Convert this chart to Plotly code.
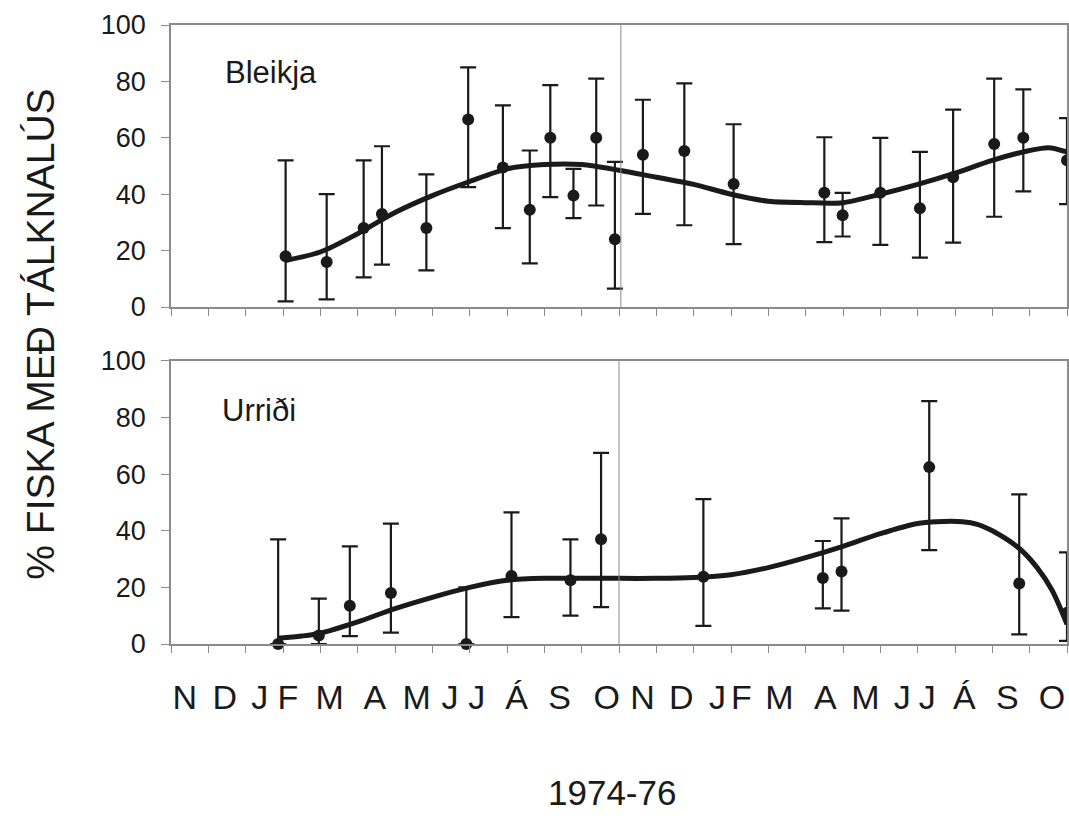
import plotly.graph_objects as go

# ---------------- data (months counted from start of Nov 1974) ----------------
MONTHS = ["N", "D", "J", "F", "M", "A", "M", "J", "J", "Á", "S", "O",
          "N", "D", "J", "F", "M", "A", "M", "J", "J", "Á", "S", "O"]
MONTH_LABEL_POS = [0.37, 1.44, 2.38, 3.13, 4.25, 5.46, 6.58, 7.47, 8.19, 9.26, 10.41, 11.67,
                   12.63, 13.67, 14.64, 15.28, 16.30, 17.53, 18.60, 19.59, 20.26, 21.25, 22.40, 23.60]
MONTH_BOUNDS = list(range(25))

# Bleikja (Arctic charr)
b_x = [3.07, 4.17, 5.16, 5.65, 6.84, 7.96, 8.89, 9.61, 10.16, 10.78, 11.39, 11.89,
       12.64, 13.75, 15.07, 17.50, 17.99, 19.00, 20.06, 20.95, 22.05, 22.83, 24.00]
b_val = [18, 16, 28, 33, 28, 66.5, 49.5, 34.5, 60, 39.5, 60, 24,
         54, 55.3, 43.6, 40.5, 32.5, 40.5, 35, 46, 57.8, 60, 52]
b_hi = [52, 40, 52, 57, 47, 85, 71.5, 55.5, 78.7, 49, 81, 51.5,
        73.5, 79.3, 64.8, 60.2, 40.5, 60, 55, 70, 81, 77.2, 67]
b_lo = [2, 2.7, 10.5, 15, 13, 42.5, 28, 15.5, 39, 31.5, 36, 6.5,
        33, 29, 22.3, 23, 25, 22, 17.5, 22.8, 32, 41, 36.5]
b_fit_x = [3.07, 4, 5, 6, 7, 8, 9, 10, 11, 12, 13, 14, 15, 16, 17, 18, 19, 20, 21, 22, 23, 23.5, 24]
b_fit_y = [16.5, 19.5, 26, 33.5, 39.5, 44.5, 49, 50.5, 50.5, 48.5, 46, 43.5, 40, 37.5, 37, 37,
           40, 43.5, 47.5, 52, 55.5, 56.5, 55]

# Urriði (brown trout)
u_x = [2.87, 3.96, 4.79, 5.89, 7.91, 9.12, 10.70, 11.52, 14.26, 17.46, 17.96, 20.31, 22.72, 24.00]
u_val = [0, 3, 13.5, 18, 0, 24, 22.5, 37, 23.8, 23.3, 25.6, 62.5, 21.4, 11]
u_hi = [37, 16, 34.5, 42.5, 20, 46.5, 37, 67.5, 51.2, 36.4, 44.4, 85.8, 52.9, 32.4]
u_lo = [0, 0, 2.8, 4, 0, 9.5, 10, 13, 6.4, 12.6, 11.8, 33.2, 3.4, 1.1]
u_fit_x = [2.87, 3.5, 4, 5, 6, 7, 8, 9, 10, 11, 12, 13, 14, 15, 16, 17, 18, 19, 20, 20.5,
           21.2, 21.6, 22, 22.7, 23.2, 23.6, 24]
u_fit_y = [2, 2.8, 3.8, 7.8, 12.5, 16.5, 20, 22.5, 23.2, 23.2, 23.2, 23.2, 23.5, 24.5, 27, 30.5,
           34.5, 39, 42.6, 43.2, 43.2, 42.3, 40, 34, 27, 19, 7]

Y_TICKS = [0, 20, 40, 60, 80, 100]

# ---------------- figure ----------------
INK = "#1a1a1a"
AXC = "#8a8a8a"
FONT = "Liberation Sans, Arial, sans-serif"

fig = go.Figure()

def add_panel(xs, vals, his, los, fx, fy, xa, ya):
    fig.add_trace(go.Scatter(
        x=fx, y=fy, mode="lines", line=dict(color=INK, width=5, shape="spline", smoothing=0.8),
        xaxis=xa, yaxis=ya, showlegend=False, hoverinfo="skip", cliponaxis=False))
    fig.add_trace(go.Scatter(
        x=xs, y=vals, mode="markers",
        marker=dict(color=INK, size=12),
        error_y=dict(type="data", symmetric=False,
                     array=[h - v for h, v in zip(his, vals)],
                     arrayminus=[v - l for v, l in zip(vals, los)],
                     color=INK, thickness=2.2, width=8),
        xaxis=xa, yaxis=ya, showlegend=False, cliponaxis=False))

add_panel(b_x, b_val, b_hi, b_lo, b_fit_x, b_fit_y, "x", "y")
add_panel(u_x, u_val, u_hi, u_lo, u_fit_x, u_fit_y, "x2", "y2")

common_x = dict(range=[0, 24], showgrid=False, zeroline=False, showline=True,
                linecolor=AXC, linewidth=1.5, mirror=True)
common_y = dict(range=[0, 100], showgrid=False, zeroline=False, showline=True,
                linecolor=AXC, linewidth=1.5, mirror=True,
                tickmode="array", tickvals=Y_TICKS, ticks="outside", ticklen=8,
                tickcolor=AXC, tickwidth=1.2, ticklabelstandoff=10,
                tickfont=dict(family=FONT, size=27, color=INK))

fig.update_layout(
    width=1069, height=816,
    margin=dict(l=171, r=0, t=25, b=172),
    paper_bgcolor="white", plot_bgcolor="white",
    xaxis=dict(**common_x, anchor="y", domain=[0, 1], showticklabels=False,
               tickmode="array", tickvals=MONTH_BOUNDS, ticks="outside", ticklen=7,
               tickcolor=AXC, tickwidth=1),
    yaxis=dict(**common_y, anchor="x", domain=[0.5444, 1]),
    xaxis2=dict(**common_x, anchor="y2", domain=[0, 1],
                tickmode="array", tickvals=MONTH_LABEL_POS, ticktext=MONTHS, ticks="",
                ticklabelstandoff=22,
                tickfont=dict(family=FONT, size=34, color=INK),
                minor=dict(tickmode="array", tickvals=MONTH_BOUNDS, ticks="outside",
                           ticklen=7, tickcolor=AXC, tickwidth=1)),
    yaxis2=dict(**common_y, anchor="x2", domain=[0, 0.4572]),
    shapes=[
        dict(type="line", xref="x", yref="y domain", x0=12.05, x1=12.05, y0=0, y1=1,
             line=dict(color=AXC, width=1)),
        dict(type="line", xref="x2", yref="y2 domain", x0=12.0, x1=12.0, y0=0, y1=1,
             line=dict(color=AXC, width=1)),
    ],
    annotations=[
        dict(text="Bleikja", x=1.39, y=83, xref="x", yref="y", xanchor="left", yanchor="middle",
             showarrow=False, font=dict(family=FONT, size=31, color=INK)),
        dict(text="Urriði", x=1.31, y=82.5, xref="x2", yref="y2", xanchor="left", yanchor="middle",
             showarrow=False, font=dict(family=FONT, size=31, color=INK)),
        dict(text="% FISKA MEÐ TÁLKNALÚS", x=-0.146, y=0.5, xref="paper", yref="paper",
             textangle=-90, xanchor="center", yanchor="middle", showarrow=False,
             font=dict(family=FONT, size=39, color=INK)),
        dict(text="1974-76", x=0.492, y=-0.2407, xref="paper", yref="paper",
             xanchor="center", yanchor="middle", showarrow=False,
             font=dict(family=FONT, size=35, color=INK)),
    ],
)

fig.write_html("out.html")
